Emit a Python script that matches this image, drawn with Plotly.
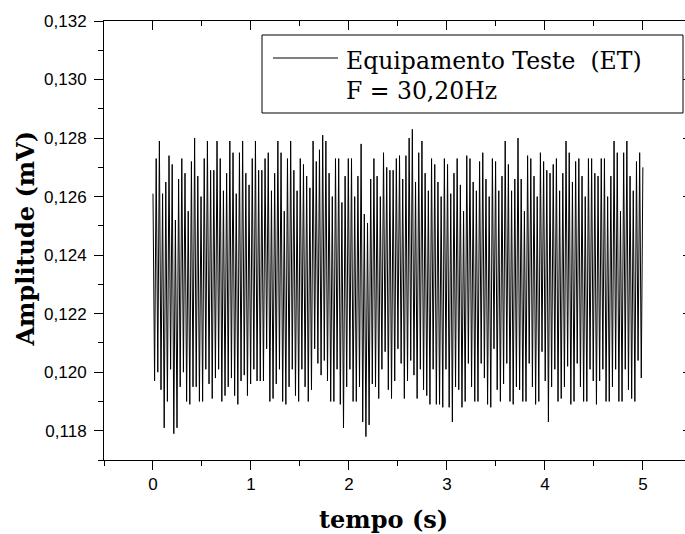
import numpy as np
import plotly.graph_objects as go

# ---- data (alternating peak / trough samples) ----
peaks = [
    0.1261, 0.1273, 0.1279, 0.1261, 0.1265, 0.1274, 0.1271, 0.1252, 0.1266, 0.1273,
    0.1268, 0.1255, 0.1272, 0.1280, 0.1267, 0.1260, 0.1273, 0.1279, 0.1269, 0.1269,
    0.1279, 0.1273, 0.1262, 0.1268, 0.1279, 0.1275, 0.1261, 0.1275, 0.1279, 0.1268,
    0.1264, 0.1273, 0.1279, 0.1269, 0.1269, 0.1273, 0.1275,
    0.1262, 0.1268, 0.1279, 0.1275, 0.1255, 0.1273, 0.1279, 0.1269, 0.1262, 0.1273,
    0.1271, 0.1267, 0.1263, 0.1279, 0.1272, 0.1276, 0.1281, 0.1279, 0.1268, 0.1260,
    0.1273, 0.1273, 0.1258, 0.1267, 0.1273, 0.1273, 0.1260, 0.1267, 0.1278, 0.1254,
    0.1251, 0.1266, 0.1273, 0.1267, 0.1260, 0.1275, 0.1270, 0.1269, 0.1269, 0.1273,
    0.1274, 0.1266, 0.1274, 0.1280, 0.1283, 0.1265, 0.1275, 0.1279, 0.1268, 0.1262,
    0.1273, 0.1271, 0.1265, 0.1260, 0.1273, 0.1271, 0.1261, 0.1268, 0.1273, 0.1264,
    0.1255, 0.1274, 0.1273, 0.1265, 0.1262, 0.1272, 0.1275, 0.1266, 0.1260, 0.1273,
    0.1272, 0.1262, 0.1267, 0.1279, 0.1271, 0.1262, 0.1266, 0.1280, 0.1266, 0.1255,
    0.1274,
    0.1273, 0.1267, 0.1260, 0.1275, 0.1272, 0.1269, 0.1268, 0.1271, 0.1273, 0.1262,
    0.1268, 0.1279, 0.1275, 0.1265, 0.1272, 0.1273, 0.1267, 0.1260, 0.1273, 0.1273,
    0.1268, 0.1267, 0.1273, 0.1273, 0.1260, 0.1267, 0.1279, 0.1275, 0.1255, 0.1275,
    0.1279, 0.1267, 0.1262, 0.1272, 0.1275, 0.1270,
]
troughs = [
    0.1197, 0.1200, 0.1194, 0.1181, 0.1190, 0.1201, 0.1179, 0.1181, 0.1195, 0.1200,
    0.1190, 0.1189, 0.1195, 0.1195, 0.1190, 0.1190, 0.1201, 0.1196, 0.1191, 0.1198,
    0.1201, 0.1190, 0.1192, 0.1195, 0.1198, 0.1192, 0.1189, 0.1197, 0.1199, 0.1192,
    0.1196, 0.1201, 0.1197, 0.1197, 0.1197, 0.1208,
    0.1190, 0.1191, 0.1196, 0.1201, 0.1190, 0.1189, 0.1195, 0.1201, 0.1192, 0.1190,
    0.1201, 0.1195, 0.1190, 0.1194, 0.1208, 0.1203, 0.1199, 0.1204, 0.1197, 0.1190,
    0.1190, 0.1201, 0.1189, 0.1181, 0.1195, 0.1201, 0.1190, 0.1190, 0.1195, 0.1183,
    0.1178, 0.1182, 0.1196, 0.1195, 0.1191, 0.1201, 0.1207, 0.1194, 0.1191, 0.1197,
    0.1208,
    0.1203, 0.1191, 0.1197, 0.1204, 0.1199, 0.1191, 0.1201, 0.1194, 0.1192, 0.1189,
    0.1201, 0.1189, 0.1189, 0.1188, 0.1201, 0.1188, 0.1183, 0.1195, 0.1194, 0.1188,
    0.1190, 0.1203, 0.1195, 0.1190, 0.1190, 0.1203, 0.1198, 0.1189, 0.1188, 0.1208,
    0.1194, 0.1190, 0.1196, 0.1203, 0.1190, 0.1189, 0.1195, 0.1194, 0.1190, 0.1190,
    0.1203, 0.1195, 0.1189, 0.1190, 0.1207, 0.1197, 0.1183, 0.1195, 0.1201, 0.1190,
    0.1191, 0.1195, 0.1202, 0.1189, 0.1190, 0.1203, 0.1195, 0.1190, 0.1190, 0.1201,
    0.1197, 0.1189, 0.1197, 0.1201, 0.1190, 0.1190, 0.1195, 0.1201, 0.1190, 0.1190,
    0.1201, 0.1194, 0.1191, 0.1190, 0.1204, 0.1198,
]
t_start, t_end = 0.0, 5.0
x_ticks = [0, 1, 2, 3, 4, 5]
y_ticks = [0.118, 0.120, 0.122, 0.124, 0.126, 0.128, 0.130, 0.132]
series_name = "Equipamento Teste\u00a0\u00a0(ET)"
freq_label = "F = 30,20Hz"
x_title = "tempo (s)"
y_title = "Amplitude (mV)"

# interleave peaks and troughs into the sampled signal
amp = []
for i, p in enumerate(peaks):
    amp.append(p)
    if i < len(troughs):
        amp.append(troughs[i])
t = np.linspace(t_start, t_end, len(amp))

SERIF = "DejaVu Serif"
SANS = "Liberation Sans, Arial"

fig = go.Figure()
fig.add_trace(go.Scatter(x=t, y=amp, mode="lines", name=series_name,
                         line=dict(color="black", width=1), showlegend=False))
# invisible trace to anchor mirrored axes
fig.add_trace(go.Scatter(x=[t[0]], y=[amp[0]], xaxis="x2", yaxis="y2",
                         mode="markers", marker=dict(opacity=0), showlegend=False,
                         hoverinfo="skip"))

xr = [-0.5, 5.43]
yr = [0.117, 0.132]

fig.update_layout(
    width=685, height=534,
    margin=dict(l=104, r=0, t=21, b=74),
    paper_bgcolor="white", plot_bgcolor="white",
    separators=",.",
    showlegend=False,
    xaxis=dict(range=xr, tickvals=x_ticks, ticks="outside", ticklen=9, tickwidth=1,
               tickcolor="black", showline=True, linecolor="black", linewidth=1,
               showgrid=False, zeroline=False,
               minor=dict(dtick=0.5, tick0=0, ticks="outside", ticklen=5,
                          tickcolor="black", showgrid=False),
               tickfont=dict(family=SANS, size=17, color="black")),
    xaxis2=dict(range=xr, overlaying="x", side="top", anchor="y",
                tickvals=x_ticks, ticks="inside", ticklen=9, tickwidth=1,
                tickcolor="black", showline=True, linecolor="black", linewidth=1,
                showgrid=False, zeroline=False, showticklabels=False,
                minor=dict(dtick=0.5, tick0=0, ticks="inside", ticklen=5,
                           tickcolor="black", showgrid=False)),
    yaxis=dict(range=yr, tickvals=y_ticks, tickformat=".3f", ticks="outside",
               ticklen=9, tickwidth=1, tickcolor="black", showline=True,
               linecolor="black", linewidth=1, showgrid=False, zeroline=False,
               ticklabelstandoff=4,
               minor=dict(dtick=0.001, tick0=0.117, ticks="outside", ticklen=5,
                          tickcolor="black", showgrid=False),
               tickfont=dict(family=SANS, size=17, color="black")),
    yaxis2=dict(range=yr, overlaying="y", side="right", anchor="x",
                tickvals=y_ticks, ticks="inside", ticklen=2, tickwidth=1,
                tickcolor="black", showline=False, showgrid=False,
                zeroline=False, showticklabels=False),
)

def px_x(px):
    return (px - 104) / 581.0

def px_y(py):
    return (460 - py) / 439.0

# axis titles
fig.add_annotation(xref="paper", yref="paper", x=px_x(383.5), y=px_y(519),
                   xanchor="center", yanchor="middle", showarrow=False,
                   text="<b>" + x_title + "</b>",
                   font=dict(family=SERIF, size=24, color="black"))
fig.add_annotation(xref="paper", yref="paper", x=px_x(25), y=px_y(238.5),
                   xanchor="center", yanchor="middle", showarrow=False,
                   textangle=-90, text="<b>" + y_title + "</b>",
                   font=dict(family=SERIF, size=24, color="black"))

# legend box drawn manually (Origin-style)
fig.add_shape(type="rect", xref="paper", yref="paper",
              x0=px_x(262), x1=px_x(683), y0=px_y(113), y1=px_y(35),
              line=dict(color="black", width=1), fillcolor="white", layer="above")
fig.add_shape(type="line", xref="paper", yref="paper",
              x0=px_x(273), x1=px_x(338), y0=px_y(58), y1=px_y(58),
              line=dict(color="black", width=1), layer="above")
fig.add_annotation(xref="paper", yref="paper", x=px_x(344), y=px_y(61),
                   xanchor="left", yanchor="middle", showarrow=False,
                   text=series_name, font=dict(family=SERIF, size=23.5, color="black"))
fig.add_annotation(xref="paper", yref="paper", x=px_x(344), y=px_y(91),
                   xanchor="left", yanchor="middle", showarrow=False,
                   text=freq_label, font=dict(family=SERIF, size=23.5, color="black"))

fig.write_html("out.html")
